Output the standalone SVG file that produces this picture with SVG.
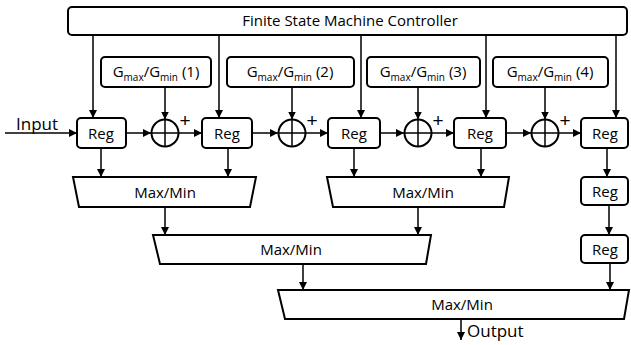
<svg xmlns="http://www.w3.org/2000/svg" width="631" height="345" viewBox="0 0 631 345">
<style>
.box{fill:#fff;stroke:#000;stroke-width:2}
.ln{fill:none;stroke:#000;stroke-width:1.5}
.t{font-family:"Open Sans","Liberation Sans",sans-serif;font-size:15px;fill:#000;text-anchor:middle}
.s{font-size:10px}
.p{font-family:"Liberation Sans",sans-serif;font-size:19px;fill:#000;text-anchor:middle}
</style>
<defs>
<marker id="ah" markerWidth="8" markerHeight="8" refX="8" refY="4" orient="auto" markerUnits="userSpaceOnUse">
<path d="M0,0 L8,4 L0,8 Z" fill="#000"/>
</marker>
</defs>
<rect width="631" height="345" fill="#fff"/>
<g id="fsm"><rect class="box" x="68" y="7" width="559" height="28" rx="4"/><text class="t" x="350" y="26">Finite State Machine Controller</text></g>
<g id="g1"><rect class="box" x="101" y="57" width="110" height="30" rx="4"/><text class="t" x="156" y="77">G<tspan class="s" dy="4">max</tspan><tspan dy="-4">/G</tspan><tspan class="s" dy="4">min</tspan><tspan dy="-4"> (1)</tspan></text></g>
<g id="g2"><rect class="box" x="227" y="57" width="127" height="30" rx="4"/><text class="t" x="290" y="77">G<tspan class="s" dy="4">max</tspan><tspan dy="-4">/G</tspan><tspan class="s" dy="4">min</tspan><tspan dy="-4"> (2)</tspan></text></g>
<g id="g3"><rect class="box" x="367" y="57" width="113" height="30" rx="4"/><text class="t" x="423" y="77">G<tspan class="s" dy="4">max</tspan><tspan dy="-4">/G</tspan><tspan class="s" dy="4">min</tspan><tspan dy="-4"> (3)</tspan></text></g>
<g id="g4"><rect class="box" x="493" y="57" width="115" height="30" rx="4"/><text class="t" x="550" y="77">G<tspan class="s" dy="4">max</tspan><tspan dy="-4">/G</tspan><tspan class="s" dy="4">min</tspan><tspan dy="-4"> (4)</tspan></text></g>
<g id="reg1"><rect class="box" x="77" y="118" width="49" height="30" rx="4"/><text class="t" x="101" y="139">Reg</text></g>
<g id="reg2"><rect class="box" x="202" y="118" width="50" height="30" rx="4"/><text class="t" x="227" y="139">Reg</text></g>
<g id="reg3"><rect class="box" x="328" y="118" width="52" height="30" rx="4"/><text class="t" x="354" y="139">Reg</text></g>
<g id="reg4"><rect class="box" x="454" y="118" width="52" height="30" rx="4"/><text class="t" x="480" y="139">Reg</text></g>
<g id="reg5"><rect class="box" x="581" y="118" width="47" height="30" rx="4"/><text class="t" x="605" y="139">Reg</text></g>
<g id="reg6"><rect class="box" x="581" y="177" width="47" height="28" rx="4"/><text class="t" x="605" y="197">Reg</text></g>
<g id="reg7"><rect class="box" x="581" y="235" width="47" height="28" rx="4"/><text class="t" x="605" y="255">Reg</text></g>
<g id="add1"><circle class="box" cx="165" cy="133" r="13.5"/><path class="ln" d="M151.5,133 H178.5 M165,119.5 V146.5"/><text class="p" x="185" y="127">+</text></g>
<g id="add2"><circle class="box" cx="292" cy="133" r="13.5"/><path class="ln" d="M278.5,133 H305.5 M292,119.5 V146.5"/><text class="p" x="312" y="127">+</text></g>
<g id="add3"><circle class="box" cx="418" cy="133" r="13.5"/><path class="ln" d="M404.5,133 H431.5 M418,119.5 V146.5"/><text class="p" x="438" y="127">+</text></g>
<g id="add4"><circle class="box" cx="545" cy="133" r="13.5"/><path class="ln" d="M531.5,133 H558.5 M545,119.5 V146.5"/><text class="p" x="565" y="127">+</text></g>
<g id="mm1"><path class="box" d="M73,177 H256 L250,207 H79 Z"/><text class="t" x="165" y="198">Max/Min</text></g>
<g id="mm2"><path class="box" d="M327,177 H509 L504,207 H333 Z"/><text class="t" x="423" y="198">Max/Min</text></g>
<g id="mm3"><path class="box" d="M153,235 H431 L426,264 H160 Z"/><text class="t" x="291" y="255">Max/Min</text></g>
<g id="mm4"><path class="box" d="M278,290 H629 L624,319 H285 Z"/><text class="t" x="462" y="310">Max/Min</text></g>
<g id="labels"><text class="t" x="37" y="130" style="font-size:17px">Input</text><text class="t" x="467" y="337" style="font-size:17px;text-anchor:start">Output</text></g>
<g id="connectors" class="ln" marker-end="url(#ah)">
<path d="M5,133 H77"/>
<path d="M126,133 H151"/>
<path d="M178,133 H202"/>
<path d="M252,133 H278"/>
<path d="M305,133 H328"/>
<path d="M380,133 H404"/>
<path d="M431,133 H454"/>
<path d="M506,133 H531"/>
<path d="M558,133 H581"/>
<path d="M93,35 V118"/>
<path d="M219,35 V118"/>
<path d="M361,35 V118"/>
<path d="M486,35 V118"/>
<path d="M616,35 V118"/>
<path d="M165,87 V119.5"/>
<path d="M292,87 V119.5"/>
<path d="M418,87 V119.5"/>
<path d="M545,87 V119.5"/>
<path d="M101,148 V177"/>
<path d="M228,148 V177"/>
<path d="M354,148 V177"/>
<path d="M481,148 V177"/>
<path d="M607,148 V177"/>
<path d="M609,205 V235"/>
<path d="M610,263 V290"/>
<path d="M165,207 V235"/>
<path d="M418,207 V235"/>
<path d="M303,264 V290"/>
<path d="M461,319 V340"/>
</g>
</svg>
